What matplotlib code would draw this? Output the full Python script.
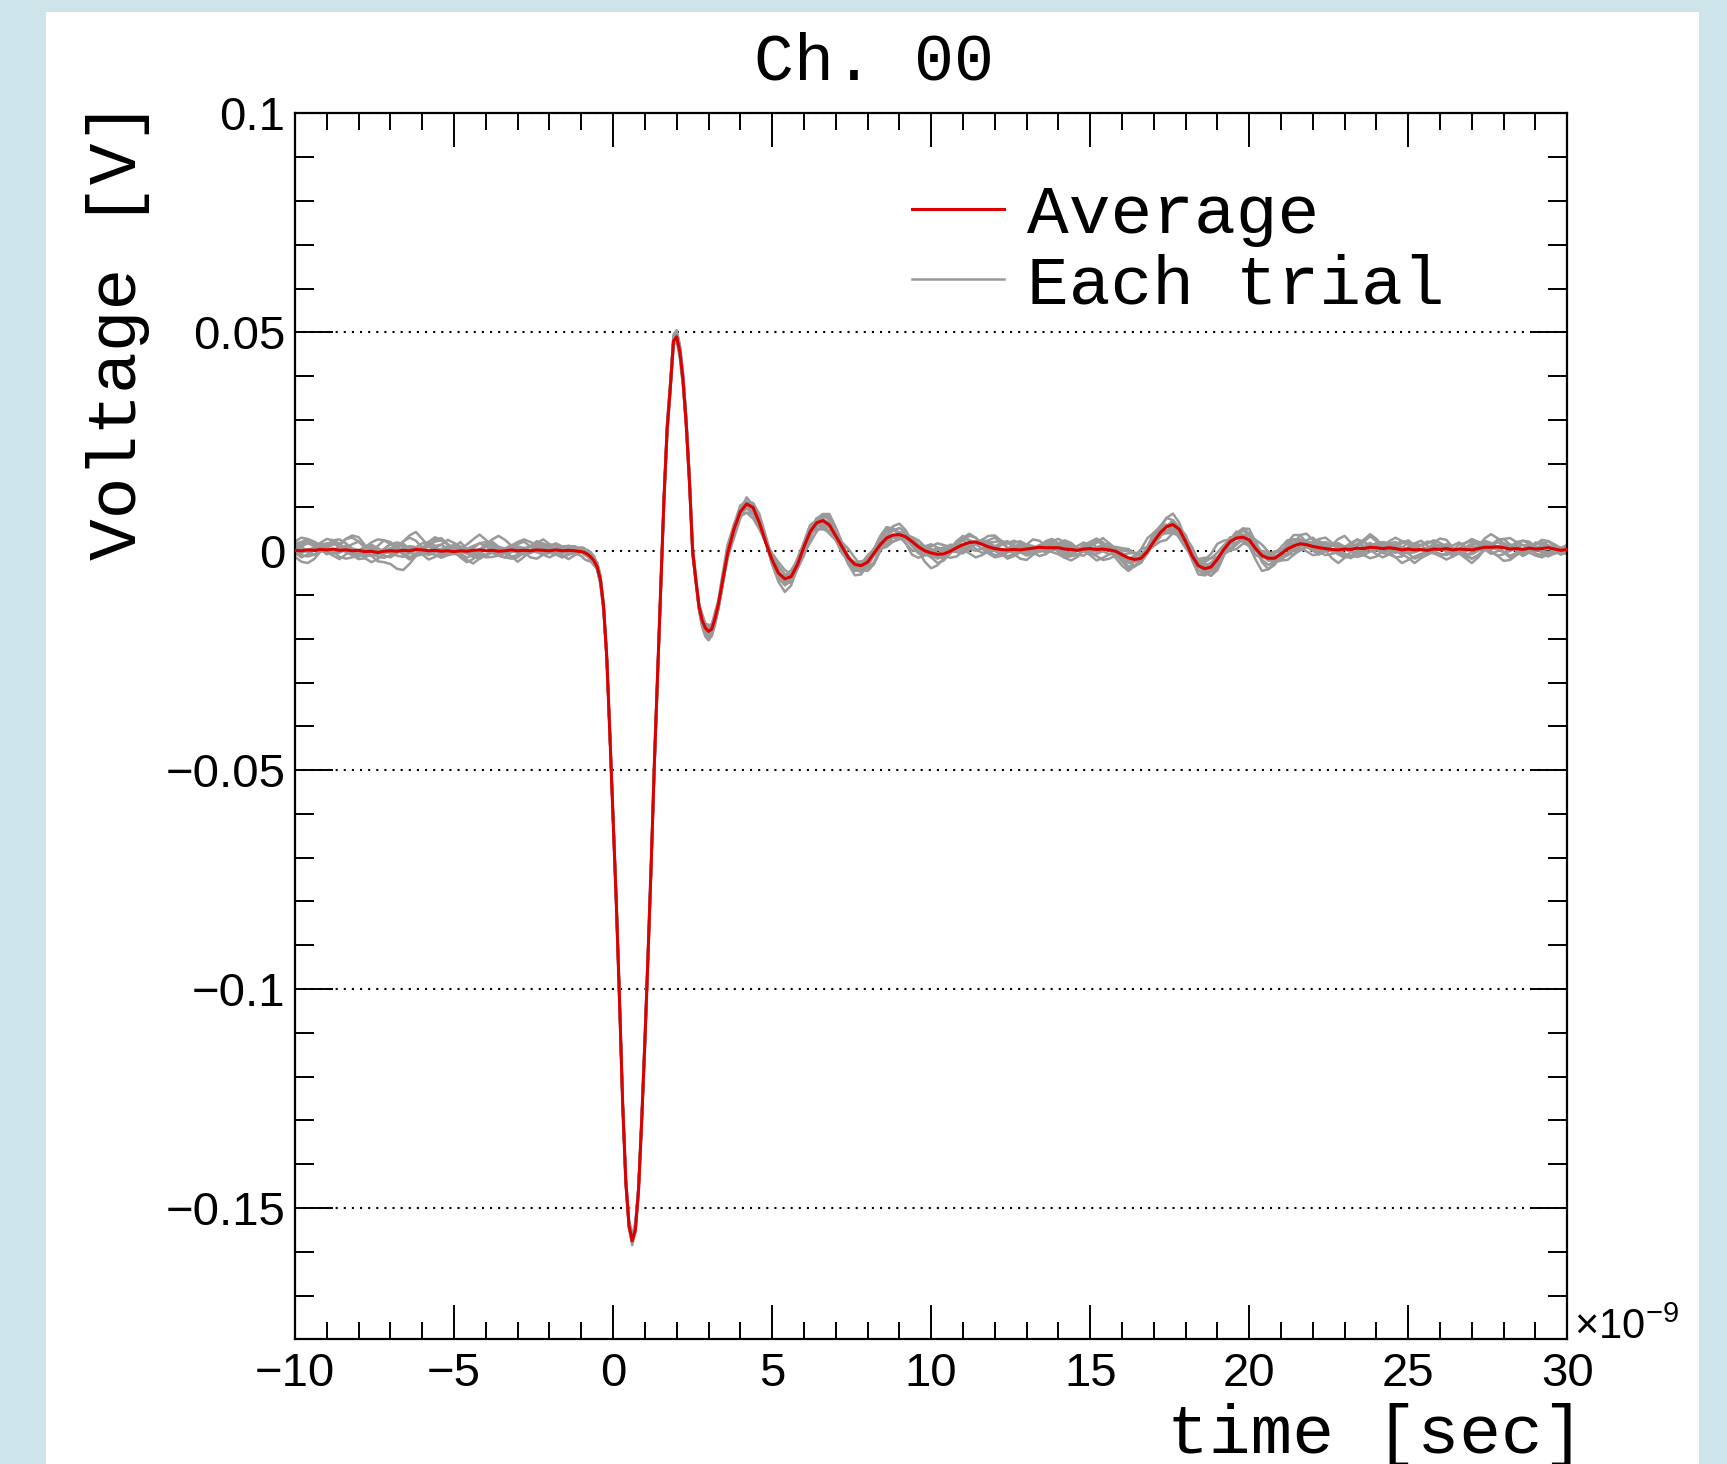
import numpy as np
import matplotlib
matplotlib.use('Agg')
import matplotlib.pyplot as plt
from matplotlib.ticker import MultipleLocator, FuncFormatter
from matplotlib.patches import Rectangle

plt.rcParams['font.family'] = ['Liberation Sans', 'DejaVu Sans']

# sample times, ns: 0.2 ns steps, 0.1 ns steps around the pulse
time_ns = np.concatenate([np.linspace(-10.0, -1.2, 45),
                          np.linspace(-1.0, 3.4, 45),
                          np.linspace(3.6, 30.0, 133)])

# averaged waveform, mV
avg_mv = [
    # -10.0 .. -1.2
    0.2, 0.1, 0.3, 0.2, 0.4,  0.3, 0.5, 0.2, 0.3, 0.1,  0.2, -0.1, 0.0, -0.3, 0.0,  0.1, 0.0, 0.2, 0.1, 0.4,
    0.3, 0.1, 0.2, 0.0, 0.1,  -0.1, 0.1, 0.0, 0.2, 0.3,  0.1, 0.2, 0.0, 0.1, 0.3,  0.1, 0.2, 0.1, 0.3, 0.2,
    0.1, 0.3, 0.1, 0.2, 0.1,
    # -1.0 .. 3.4 (0.1 ns)
    -0.1, -0.3, -0.7, -1.3, -2.2,  -3.6, -6.5, -12.5, -24, -42,
    -61, -80, -102, -126, -144,  -154, -157.5, -155, -146, -130,
    -112, -92, -71, -48, -28,  -8, 12, 28, 37.5, 48,
    49, 45.5, 39, 29, 16,  0, -6.5, -12.5, -15.8, -17.5,
    -18.3, -17.8, -15.5, -12.5, -8.5,
    # 3.6 .. 30.0
    -0.5, 5, 9, 10.8, 10,  6.5, 2, -2, -5, -6.3,  -5.8, -3,
    1, 4.5, 6.5, 7, 6,  3.5, 1, -1.5, -3, -3.3,  -2.5, -0.5, 1.5, 3, 3.7,  3.8, 3.3, 2.2, 1.0, 0.1,
    -0.4, -0.7, -0.6, 0.0, 0.8,  1.5, 2.0, 2.1, 1.6, 1.0,  0.6, 0.4, 0.3, 0.4, 0.3,  0.5, 0.7, 0.9, 0.8, 0.8,
    0.8, 0.5, 0.4, 0.2, 0.5,  0.6, 0.4, 0.5, 0.3, 0.0,  -0.8, -1.5, -1.9, -1.6, 0.0,  2.2, 4.2, 5.6, 6.1, 5.0,
    2.2, -1.0, -3.3, -4.0, -3.6,  -1.8, 0.4, 2.2, 3.0, 3.2,  2.6, 0.6, -1.0, -1.6, -1.6,  -0.6, 0.5, 1.2, 1.7, 1.5,
    1.1, 0.8, 0.6, 0.4, 0.3,  0.5, 0.4, 0.7, 0.6, 0.9,  0.8, 0.6, 0.8, 0.6, 0.3,  0.5, 0.3, 0.4, 0.2, 0.5,
    0.4, 0.6, 0.3, 0.5, 0.4,  0.3, 0.6, 0.9, 0.9, 1.0,  0.8, 0.5, 0.6, 0.4, 0.7,  0.5, 0.6, 0.8, 0.5, 0.2,
    0.4,
]

# each trial = average + its own deviation, in steps of 0.5 mV
trial_01 = [
    1, 2, 3, 2, 0,  -1, -2, -1, 1, 3,  4, 2, 0, -2, -3,  -2, 0, 1, 2, 1,
    -1, -2, -1, 1, 2,  3, 1, -1, -3, -4,  -2, 0, 2, 1, 0,  -1, 0, 2, 3, 2,
    0, -2, -3, -1, 1,
    2, 2, 1, 0, 0,  -1, -1, -2, -2, -1,  -1, 0, 0, 1, 1,  2, 2, 1, 1, 0,
    -1, -2, -2, -3, -3,  -2, -1, 0, 1, 2,  2, 3, 3, 2, 2,  1, 0, -1, -1, -2,
    -2, -1, -1, 0, 1,
    2, 1, 0, -2, -3,  -2, 0, 1, 3, 2,  1, -1,
    -2, -1, 0, 2, 3,  1, -1, -2, -1, 0,  1, 2, 1, -1, -3,  -2, 0, 2, 3, 2,
    0, -1, -2, -1, 1,  3, 4, 2, 0, -2,  -3, -2, 0, 1, 2,  1, -1, -2, -1, 1,
    2, 1, 0, -2, -3,  -1, 1, 2, 3, 1,  -1, -2, -1, 0, 2,  3, 2, 0, -1, -3,
    -2, 0, 1, 2, 1,  -1, -2, -1, 1, 3,  2, 0, -2, -3, -2,  0, 2, 3, 1, -1,
    -2, -1, 1, 2, 1,  0, -1, -2, -1, 1,  2, 3, 2, 0, -1,  -2, -1, 0, 1, 2,
    1, -1, -3, -2, 0,  2, 3, 2, 0, -1,  -2, -1, 1, 2, 1,  0, -1, -2, -1, 1,
    0,
]
trial_02 = [
    3, 4, 5, 4, 2,  1, 2, 3, 5, 6,  4, 2, 1, 0, 1,  3, 4, 3, 1, 0,
    1, 2, 4, 5, 3,  1, 0, 1, 2, 3,  2, 0, -1, 0, 2,  4, 5, 4, 2, 1,
    2, 3, 2, 0, -1,
    0, 1, 1, 2, 2,  1, 1, 0, 0, 1,  1, 2, 2, 3, 3,  2, 2, 1, 1, 0,
    0, -1, -1, -2, -2,  -1, -1, 0, 0, 1,  1, 2, 2, 1, 1,  0, 0, -1, -1, -1,
    -1, 0, 0, 1, 1,
    2, 2, 1, 0, -1,  0, 1, 2, 3, 2,  1, 0,
    -1, 0, 2, 3, 2,  0, -1, -2, -1, 1,  2, 1, 0, 1, 2,  3, 2, 1, 0, 1,
    3, 5, 4, 2, 1,  2, 3, 2, 0, -1,  0, 2, 3, 4, 3,  1, 0, 1, 2, 3,
    4, 3, 1, 0, 1,  3, 4, 2, 1, 2,  3, 4, 3, 1, -1,  0, 2, 4, 5, 3,
    1, 0, 1, 3, 4,  3, 2, 1, 2, 4,  5, 3, 1, 0, 2,  3, 4, 3, 2, 1,
    2, 4, 5, 3, 2,  1, 3, 4, 3, 1,  0, 1, 3, 5, 4,  2, 1, 2, 3, 4,
    3, 1, 0, 2, 3,  4, 3, 2, 1, 3,  4, 5, 3, 2, 1,  2, 4, 3, 2, 1,
    2,
]
trial_03 = [
    -1, -2, -3, -2, -1,  0, -1, -3, -4, -3,  -2, -1, -2, -4, -5,  -6, -8, -9, -6, -3,
    -2, -1, -2, -3, -2,  -1, 0, -1, -2, -3,  -2, -1, -2, -3, -4,  -3, -1, 0, -1, -2,
    -3, -2, -1, 0, -1,
    -2, -3, -3, -2, -2,  -1, -1, 0, 0, -1,  -1, -2, -2, -1, -1,  0, 0, 1, 1, 0,
    0, -1, -1, -2, -2,  -3, -3, -2, -2, -1,  -1, 0, 0, 1, 1,  0, 0, -1, -1, -2,
    -2, -3, -3, -2, -2,
    0, 1, 0, -1, -2,  -1, 0, -1, -2, -3,  -2, -1,
    0, -1, -3, -4, -3,  -1, 0, -1, -2, -3,  -2, -1, -2, -4, -3,  -2, -1, -2, -3, -2,
    -1, 0, -1, -3, -4,  -3, -2, -1, -2, -3,  -4, -3, -1, 0, -1,  -2, -3, -2, -1, -2,
    -3, -4, -3, -2, -1,  -2, -3, -5, -4, -2,  -1, -2, -3, -2, -1,  0, -1, -3, -4, -3,
    -2, -1, -2, -3, -2,  -1, -2, -4, -5, -3,  -2, -1, 0, -1, -2,  -3, -2, -1, -2, -3,
    -4, -3, -1, 0, -1,  -2, -3, -4, -3, -2,  -1, -2, -3, -4, -6,  -5, -3, -2, -1, -2,
    -3, -2, -1, -2, -3,  -4, -3, -1, 0, -1,  -2, -3, -2, -1, -2,  -3, -4, -3, -2, -1,
    -2,
]
trial_04 = [
    0, 2, -1, 1, 3,  0, -2, 1, 2, -1,  -3, 0, 2, 1, -1,  1, 3, 2, -1, -2,
    1, 3, 0, -2, -1,  2, 4, 1, -1, 0,  2, 1, -2, -3, 0,  2, 1, -1, 1, 3,
    2, 0, -1, 1, 2,
    0, -1, -1, 0, 1,  1, 0, -1, -1, 1,  2, 1, 1, 0, -1,  -1, 1, 2, 1, 0,
    -2, -1, -1, 1, 2,  1, 0, -1, 1, 2,  1, 2, 0, -1, -2,  -1, -1, 1, 3, 2,
    1, -1, -1, 0, 0,
    -2, -1, 1, 3, 1,  -1, 0, 2, 1, -1,  -2, 0,
    2, 3, 1, -1, 0,  2, 0, -2, -1, 1,  3, 2, -1, -3, -1,  1, 2, 0, -1, 1,
    2, 0, -2, 0, 3,  4, 1, -1, 0, 2,  1, -2, -1, 1, 3,  1, -1, 0, 2, 3,
    0, -2, -1, 2, 3,  1, -1, 1, 2, 0,  -2, -1, 2, 4, 2,  -1, -2, 0, 2, 1,
    -1, 0, 3, 2, 0,  -2, -1, 1, 3, 1,  -1, 0, 2, 1, -2,  -1, 1, 3, 2, 0,
    -1, 1, 2, 0, -2,  0, 2, 4, 1, -1,  0, 2, 1, -1, -2,  1, 3, 2, 0, -1,
    1, 2, 0, -2, -1,  2, 3, 1, -1, 0,  2, 1, -1, -2, 0,  3, 2, 0, -1, 1,
    0,
]
trial_05 = [
    -2, -1, 0, 1, 2,  3, 3, 2, 1, 0,  -1, -2, -2, -1, 0,  1, 2, 2, 1, 0,
    -1, -1, 0, 1, 1,  2, 1, 0, -1, -2,  -3, -3, -2, -1, 0,  1, 1, 0, -1, -1,
    0, 1, 2, 2, 1,
    0, 0, 0, -1, -1,  -1, -1, 0, 0, 1,  1, 1, 0, 0, 0,  -1, -1, -1, -2, -2,
    -2, -2, -1, -1, 0,  1, 1, 2, 2, 3,  3, 3, 3, 2, 2,  1, 1, 0, 0, -1,
    -1, -2, -2, -2, -2,
    -2, -2, -1, 0, 1,  2, 2, 1, 0, -1,  -1, 0,
    1, 1, 2, 1, 0,  -1, -2, -3, -2, -1,  0, 1, 2, 3, 2,  1, 0, -1, -1, 0,
    1, 2, 2, 1, 0,  -1, -1, 0, 1, 2,  3, 4, 3, 2, 0,  -1, -2, -1, 0, 1,
    2, 2, 1, 0, -1,  -2, -2, -1, 0, 1,  2, 3, 3, 2, 1,  0, -1, -2, -2, -1,
    0, 1, 2, 2, 1,  0, -1, -1, 0, 1,  2, 2, 1, 0, -1,  -2, -3, -2, -1, 0,
    1, 2, 3, 2, 1,  0, -1, -2, -1, 0,  1, 2, 2, 1, 0,  -1, -1, 0, 1, 2,
    2, 1, 0, -1, -2,  -2, -1, 0, 1, 2,  2, 1, 0, -1, -1,  0, 1, 1, 0, -1,
    0,
]
trial_06 = [
    2, 1, 0, 1, 3,  5, 4, 2, 0, -1,  0, 2, 3, 2, 0,  -1, 1, 4, 6, 4,
    1, 0, 2, 3, 1,  0, 1, 3, 5, 7,  5, 2, 0, 1, 2,  1, 0, 2, 4, 3,
    1, 0, 1, 2, 1,
    0, 0, 1, 2, 2,  1, 1, 0, 0, 0,  1, 2, 2, 1, 1,  0, 1, 1, 2, 3,
    3, 2, 2, 1, 0,  1, 1, 3, 2, 1,  0, -1, -1, 0, 1,  2, 2, 1, 0, 1,
    2, 2, 1, 0, 0,
    3, 1, 0, 1, 2,  4, 3, 1, 0, 1,  3, 2,
    0, -1, 1, 3, 5,  4, 2, 0, 1, 2,  1, 0, 2, 4, 3,  1, 0, -1, 1, 2,
    4, 3, 1, 0, 2,  3, 1, 0, 1, 3,  5, 3, 1, 0, 1,  2, 4, 3, 1, 0,
    1, 3, 2, 0, -1,  1, 3, 5, 3, 1,  0, 2, 3, 1, 0,  1, 3, 4, 2, 0,
    -1, 1, 2, 4, 6,  7, 4, 1, 0, 1,  2, 1, 0, 2, 3,  1, 0, 1, 4, 5,
    3, 1, 0, 2, 3,  1, 0, 1, 3, 5,  3, 1, 0, 2, 4,  3, 1, 2, 4, 3,
    1, 0, 2, 3, 1,  0, 1, 4, 6, 4,  2, 1, 3, 4, 2,  0, 1, 3, 2, 1,
    2,
]
trial_07 = [
    -1, -3, -2, 0, 1,  -1, -3, -4, -2, 0,  -1, -3, -5, -3, -1,  0, -2, -3, -1, 0,
    -2, -4, -3, -1, 0,  -1, -2, -4, -6, -4,  -2, -1, -2, -3, -1,  0, -1, -3, -4, -2,
    -1, -2, -3, -2, -1,
    0, 0, -1, -2, -2,  -1, -1, 0, 0, -1,  -1, -2, -2, -1, -1,  0, 0, -1, -1, -2,
    -2, -3, -3, -2, -2,  -1, -1, 0, 0, -1,  -2, -3, -3, -1, 0,  -1, -1, -2, -3, -4,
    -4, -3, -2, -1, -2,
    0, -1, -2, -4, -3,  -1, 0, -2, -3, -2,  0, -1,
    -3, -5, -4, -2, -1,  -2, -3, -1, 0, -2,  -4, -5, -3, -1, 0,  -1, -3, -4, -2, -1,
    -2, -4, -3, -1, 0,  -2, -5, -7, -5, -2,  -1, -2, -4, -3, -1,  0, -2, -4, -3, -1,
    -1, -3, -2, 0, -1,  -3, -5, -4, -2, -1,  -2, -4, -3, -1, 0,  -2, -4, -6, -4, -2,
    -1, -2, -4, -3, -1,  0, -2, -3, -2, -1,  -3, -5, -7, -5, -2,  -1, -2, -4, -3, -1,
    0, -2, -3, -2, -1,  -3, -4, -2, 0, -1,  -3, -4, -3, -1, -2,  -4, -6, -4, -2, -1,
    -2, -3, -1, 0, -2,  -4, -3, -1, -2, -4,  -6, -5, -3, -1, 0,  -2, -3, -2, -1, -2,
    -1,
]
trial_08 = [
    0, 1, -1, -2, 0,  2, 3, 1, -1, -2,  -1, 1, 2, 0, -2,  -3, -1, 1, 2, 1,
    3, 4, 2, -1, -2,  0, 1, -1, -2, 0,  2, 3, 1, -1, -3,  -2, 1, 2, 0, -1,
    0, 1, 0, -1, 0,
    1, 1, 0, -1, -1,  0, 1, 1, 2, 2,  1, 0, 0, -1, -1,  0, 1, 2, 2, 1,
    0, -1, -2, -2, -1,  0, 1, 2, 2, 1,  0, -1, -1, -2, -2,  -1, 0, 1, 2, 2,
    3, 2, 1, 0, -1,
    3, 1, -1, -2, -1,  1, 2, 0, -2, -1,  1, 3,
    2, 0, -2, -1, 1,  2, 1, -1, -3, -2,  0, 2, 3, 1, -1,  -2, 0, 1, -1, -2,
    0, 2, 3, 1, -1,  -3, -2, 0, 2, 1,  -1, -2, 0, 3, 4,  2, -1, -2, 0, 2,
    1, -1, -2, 0, 2,  3, 1, -1, -2, 0,  1, -1, -3, -2, 1,  3, 2, 0, -2, -1,
    1, 3, 2, 0, -2,  -1, 1, 2, 0, -2,  -3, -1, 2, 3, 1,  -1, -2, 0, 2, 1,
    -1, -2, 0, 2, 3,  1, -1, -3, -2, 0,  2, 1, -1, -2, 1,  3, 2, 0, -1, 1,
    2, 0, -2, -1, 1,  3, 2, -1, -3, -2,  0, 2, 1, -1, 0,  2, 3, 1, -1, 0,
    1,
]
trial_09 = [
    2, 3, 4, 3, 1,  2, 4, 5, 3, 1,  0, 2, 4, 6, 5,  3, 2, 4, 7, 8,
    5, 2, 1, 3, 5,  4, 2, 0, 1, 3,  4, 2, 0, -1, 1,  3, 4, 2, 1, 2,
    3, 2, 1, 2, 2,
    1, 1, 0, 0, 1,  2, 2, 1, 0, 0,  -1, -1, 0, 1, 1,  2, 2, 1, 1, 0,
    0, 1, 1, 2, 2,  1, 0, -1, -1, -2,  -1, 0, 1, 2, 2,  1, 0, -1, -2, -3,
    -3, -2, -1, -2, -2,
    0, 2, 3, 1, -1,  -2, 0, 2, 1, -1,  -3, -2,
    0, 1, -1, -3, -4,  -2, 0, 1, -1, -2,  0, 2, 1, -1, -3,  -2, 0, 2, 1, -1,
    -2, 0, 2, 3, 1,  -1, -3, -4, -2, 0,  1, -1, -3, -2, 0,  2, 1, -1, -2, 0,
    2, 4, 3, 1, -1,  -2, 0, 2, 1, -1,  -3, -5, -3, -1, 1,  2, 0, -2, -1, 1,
    3, 2, 0, -2, -4,  -3, -1, 1, 2, 0,  -2, -3, -1, 1, 3,  2, 0, -2, -3, -1,
    1, 3, 2, 0, -2,  -4, -3, -1, 1, 2,  0, -2, -1, 1, 3,  4, 2, 0, -2, -1,
    1, 2, 0, -2, -3,  -1, 1, 3, 2, 0,  -2, -4, -2, 0, 2,  1, -1, -3, -2, 0,
    1,
]
trial_10 = [
    0, -1, 0, 1, 1,  0, -1, -1, 0, 1,  0, -1, -2, -1, 0,  1, 1, 0, -1, 0,
    1, 2, 1, 0, -1,  -1, 0, 1, 0, -1,  -2, -1, 0, 1, 2,  1, 0, -1, 0, 1,
    0, -1, -1, 0, 0,
    1, 1, 0, 0, 0,  -1, -1, -1, 0, 0,  0, 1, 1, 0, -1,  -1, 0, 0, 0, 1,
    1, 1, 0, -1, -1,  0, 1, 1, 0, 0,  -1, -1, -2, -2, -1,  -1, 0, 0, 1, 1,
    1, 0, 0, 0, 0,
    1, 0, -1, 0, 1,  2, 1, 0, -1, -2,  -1, 0,
    1, 0, -1, 0, 1,  2, 1, 0, -1, -2,  -1, 0, 1, 0, -1,  0, 1, 2, 1, 0,
    -1, -2, -1, 0, 1,  0, -1, 0, 1, 2,  1, 0, -1, -1, 0,  1, 0, -1, -2, -1,
    0, 1, 2, 1, 0,  -1, 0, 1, 0, -1,  -2, -1, 0, 1, 1,  0, -1, 0, 1, 0,
    -1, -1, 0, 1, 2,  1, 0, -1, -2, -1,  0, 1, 0, -1, 0,  1, 2, 1, 0, -1,
    0, 1, 0, -1, -1,  0, 1, 2, 1, 0,  -1, -2, -1, 0, 1,  0, -1, 0, 1, 1,
    0, -1, -2, -1, 0,  1, 1, 0, -1, 0,  1, 2, 1, 0, -1,  -1, 0, 1, 0, -1,
    0,
]
trial_11 = [
    -3, -5, -6, -4, -1,  2, 4, 3, 0, -2,  -4, -3, 0, 3, 5,  4, 1, -2, -4, -3,
    0, 2, 5, 6, 3,  0, -3, -5, -4, -1,  2, 4, 2, -1, -3,  -5, -3, 0, 3, 5,
    3, 0, -2, -4, -2,
    0, 1, 2, 1, 0,  -1, -2, -2, -1, 0,  1, 2, 2, 1, 0,  -1, -2, -1, 0, 1,
    2, 3, 2, 1, 0,  -1, -2, -3, -2, -1,  0, 1, 2, 3, 2,  1, 0, -1, -2, -3,
    -4, -3, -1, 1, 3,
    4, 2, -1, -4, -5,  -3, 0, 3, 5, 4,  1, -2, -4, -3, 0,  2, 4, 3, 0, -3,
    -5, -4, -1, 2, 4,  5, 3, 0, -3, -6,  -5, -2, 1, 3, 2,  0, -2, -4, -3, -1,
    2, 5, 6, 4, 1,  -2, -4, -5, -3, 0,  3, 4, 2, -1, -3,  -2, 0, 3, 5, 3,
    0, -3, -5, -6, -3,  0, 2, 4, 3, 1,  -2, -4, -3, 0, 3,  5, 4, 1, -2, -4,
    -3, -1, 2, 4, 5,  3, 0, -3, -5, -4,  -1, 2, 4, 2, -1,  -4, -6, -4, -1, 2,
    4, 6, 4, 1, -2,  -4, -3, 0, 3, 4,  2, -1, -3, -5, -3,  0, 3, 5, 3, 0,
    -2, -4, -3, 0, 2,  4, 3, 1, -2, -4,  -2, 0, 2,
]
trial_12 = [
    4, 6, 5, 2, 0,  -2, -1, 2, 5, 7,  6, 3, 0, -1, 1,  3, 2, -1, -3, -2,
    1, 4, 6, 5, 3,  1, -1, -3, -2, 0,  3, 5, 7, 5, 2,  0, -2, -1, 1, 3,
    2, 0, 1, 2, 1,
    0, -1, -1, 0, 1,  2, 2, 1, 0, -1,  -2, -2, -1, 0, 1,  2, 3, 3, 2, 1,
    0, -1, -1, 0, 1,  2, 1, 0, -1, -2,  -1, 0, 2, 3, 4,  3, 1, -1, -2, -1,
    0, 2, 3, 2, 0,
    -2, -4, -3, 0, 2,  3, 1, -2, -4, -6,  -4, -1, 2, 3, 1,  -2, -3, -1, 2, 4,
    3, 0, -3, -4, -2,  1, 4, 5, 3, 0,  -2, -5, -7, -5, -2,  1, 3, 2, -1, -3,
    -4, -2, 1, 3, 4,  2, -1, -3, -2, 0,  2, 1, -2, -4, -5,  -3, 0, 2, 4, 3,
    1, -1, -3, -2, 1,  4, 6, 4, 1, -2,  -3, -1, 2, 4, 2,  -1, -4, -5, -3, 0,
    2, 4, 3, 0, -3,  -5, -3, 0, 3, 5,  4, 1, -2, -3, -1,  2, 5, 6, 3, 0,
    -3, -5, -4, -1, 2,  3, 1, -2, -4, -3,  0, 3, 5, 4, 1,  -2, -4, -6, -4, -1,
    1, 3, 4, 2, -1,  -3, -2, 0, 2, 3,  1, -1, -2,
]
trials = [trial_01, trial_02, trial_03, trial_04, trial_05, trial_06,
          trial_07, trial_08, trial_09, trial_10, trial_11, trial_12]

title = 'Ch. 00'
x_label = 'time [sec]'
y_label = 'Voltage [V]'

n = len(time_ns)
assert len(avg_mv) == n, len(avg_mv)
for k, tr in enumerate(trials):
    assert len(tr) == n, (k + 1, len(tr))

avg_v = np.array(avg_mv) * 1e-3

fig = plt.figure(figsize=(17.27, 14.64), dpi=100, facecolor='#cde4ea')
# white canvas inside the light blue frame
fig.add_artist(Rectangle((46 / 1727, 0), 1653 / 1727, 1452 / 1464,
                         transform=fig.transFigure, facecolor='white',
                         edgecolor='none', zorder=-1))

ax = fig.add_axes([0.17082, 0.08518, 0.73671, 0.83736])

trial_line = None
for tr in trials:
    ln, = ax.plot(time_ns, avg_v + np.array(tr) * 0.5e-3, color='#9a9a9a',
                  lw=1.8, zorder=2, solid_joinstyle='round')
    trial_line = ln
avg_line, = ax.plot(time_ns, avg_v, color='#dd0000', lw=2.2, zorder=3,
                    solid_joinstyle='round')

ax.set_xlim(-10, 30)
ax.set_ylim(-0.18, 0.1)

ax.xaxis.set_major_locator(MultipleLocator(5))
ax.xaxis.set_minor_locator(MultipleLocator(1))
ax.yaxis.set_major_locator(MultipleLocator(0.05))
ax.yaxis.set_minor_locator(MultipleLocator(0.01))

def root_fmt(v, pos):
    v = round(v, 4)
    if v == 0:
        return '0'
    return f'{v:g}'.replace('-', '\u2212')

ax.xaxis.set_major_formatter(FuncFormatter(root_fmt))
ax.yaxis.set_major_formatter(FuncFormatter(root_fmt))

ax.tick_params(which='both', direction='in', top=True, right=True,
               width=1.4, labelsize=34)
ax.tick_params(axis='x', which='major', length=24.5, pad=9)
ax.tick_params(axis='x', which='minor', length=12.2)
ax.tick_params(axis='y', which='major', length=27, pad=7)
ax.tick_params(axis='y', which='minor', length=13.7)
for sp in ax.spines.values():
    sp.set_linewidth(1.6)

ax.yaxis.grid(True, which='major', color='black', linestyle=(0, (1, 2.9)),
              linewidth=1.5)
ax.xaxis.grid(False)

mono = 'Liberation Mono'
ax.set_title(title, x=0.455, y=1.0276, pad=0, fontfamily=mono, fontsize=48)
ax.set_xlabel(x_label, loc='right', fontfamily=mono, fontsize=50)
ax.xaxis.set_label_coords(1.0135, -0.052)
ax.set_ylabel(y_label, loc='top', fontfamily=mono, fontsize=50)
ax.yaxis.set_label_coords(-0.114, 1.010)

ax.text(1.005, 0.0, r'$\mathregular{\times10^{-9}}$', transform=ax.transAxes,
        ha='left', va='baseline', fontsize=30, fontfamily='Liberation Sans')

ax.legend([avg_line, trial_line], ['Average', 'Each trial'],
          loc='upper left', bbox_to_anchor=(0.485, 0.943), frameon=False,
          prop={'family': mono, 'size': 50}, handlelength=1.33,
          handletextpad=0.32, labelspacing=0.086, borderpad=0,
          borderaxespad=0)

fig.savefig('out.png', dpi=100, facecolor=fig.get_facecolor())
